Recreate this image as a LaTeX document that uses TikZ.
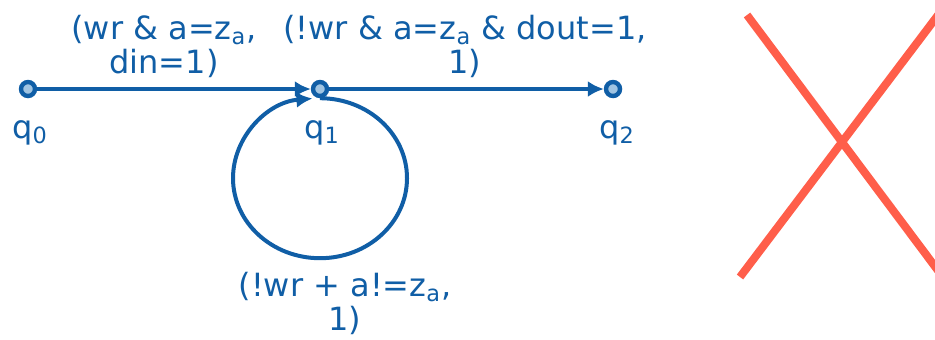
\documentclass[tikz,border=0pt]{standalone}
\usepackage{fontspec}
\setmainfont{DejaVu Sans}
\usetikzlibrary{arrows.meta}
\definecolor{qblue}{RGB}{16,94,166}
\definecolor{qlight}{RGB}{160,196,226}
\definecolor{qred}{RGB}{255,94,74}
\begin{document}
\begin{tikzpicture}[x=0.5pt,y=-0.5pt,
  font=\fontsize{16}{17}\selectfont, text=qblue,
  state/.style={circle,draw=qblue,fill=qlight,line width=2.2pt,inner sep=0pt,minimum size=7pt},
  edge/.style={draw=qblue,line width=2pt,-{Latex[length=8pt,width=8pt]}},
  cond/.style={align=center}]
\useasboundingbox (0,0) rectangle (935,339);
\clip (0,0) rectangle (935,339);

\node[state] (q0) at (28,89) {};
\node[state] (q1) at (320,89) {};
\node[state] (q2) at (613,89) {};
\draw (30,133) node {q\textsubscript{0}};
\draw (322,133) node {q\textsubscript{1}};
\draw (617,133) node {q\textsubscript{2}};

\draw (164,46) node[cond] {(wr \& a=z\textsubscript{a},\\din=1)};
\draw (465,46) node[cond] {(!wr \& a=z\textsubscript{a} \& dout=1,\\1)};
\draw (345,303) node[cond] {(!wr + a!=z\textsubscript{a},\\1)};

\draw[edge] (q0) -- (q1);
\draw[edge] (q1) -- (q2);
\draw[edge] (q1.south) arc[start angle=90,end angle=-265,x radius=43.5pt,y radius=40pt];

% crossed out
\draw[qred,line width=4pt] (747,15) -- (960,300);
\draw[qred,line width=4pt] (740,277) -- (960,-14);
\end{tikzpicture}
\end{document}
